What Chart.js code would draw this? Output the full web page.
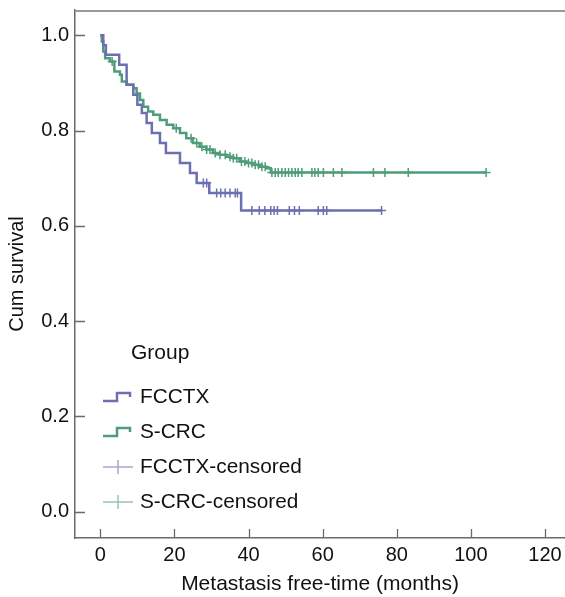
<html>
  <head>
    <script src="https://cdn.jsdelivr.net/npm/chart.js@4.4.1/dist/chart.umd.min.js"></script>
    <style>
      html, body { margin: 0; padding: 0; background: #fff; overflow: hidden; }
      #wrap { width: 565px; height: 597px; position: relative; }
    </style>
  </head>
  <body>
    <div id="wrap"><canvas id="km"></canvas></div>
    <script>
      // FCCTX curve: time of each step and survival after it
      var fcctxTime = [0, 0.8, 1.5, 5.1, 7.1, 8.9, 10.0, 11.2, 12.5, 13.9, 16.1, 17.7, 21.5, 24.2, 26.0, 29.4, 38.0, 75.9];
      var fcctxSurv = [1.0, 0.979, 0.959, 0.938, 0.896, 0.875, 0.854, 0.837, 0.816, 0.795, 0.774, 0.753, 0.732, 0.711, 0.690, 0.669, 0.632, 0.632];
      var fcctxCensored = [27.8, 28.7, 31.4, 32.5, 33.7, 35.0, 36.4, 37.0, 40.9, 42.9, 44.4, 46.0, 46.9, 47.8, 51.0, 52.4, 53.7, 58.8, 60.2, 61.1, 75.9];

      // S-CRC curve
      var scrcTime = [0, 0.4, 0.8, 1.3, 2.6, 3.8, 5.3, 5.8, 7.1, 8.9, 9.8, 10.7, 11.6, 12.9, 14.3, 16.1, 17.9, 19.7, 21.5, 23.2, 25.0, 26.8, 28.6, 30.4, 32.2, 34.0, 35.8, 37.6, 39.4, 41.2, 43.0, 44.8, 46.0, 104.1];
      var scrcSurv = [1.0, 0.987, 0.966, 0.952, 0.945, 0.924, 0.917, 0.903, 0.896, 0.889, 0.878, 0.864, 0.850, 0.840, 0.833, 0.822, 0.812, 0.805, 0.795, 0.784, 0.774, 0.766, 0.760, 0.753, 0.749, 0.745, 0.742, 0.735, 0.732, 0.728, 0.724, 0.721, 0.712, 0.712];
      var scrcCensored = [3.2, 20.5, 24.5, 26.0, 27.4, 28.7, 29.6, 31.0, 32.3, 33.7, 35.0, 35.9, 36.8, 38.1, 39.0, 40.0, 40.9, 41.8, 42.7, 43.6, 44.5, 46.3, 47.2, 48.0, 49.0, 49.9, 50.8, 51.7, 52.6, 53.4, 54.4, 57.1, 57.9, 58.8, 60.2, 62.9, 65.2, 73.7, 76.8, 83.1, 104.1];

      var xTicks = [0, 20, 40, 60, 80, 100, 120];
      var yTicks = [0, 0.2, 0.4, 0.6, 0.8, 1.0];

      var groupLabels = ['FCCTX', 'S-CRC', 'FCCTX-censored', 'S-CRC-censored'];
      var lineColors = ['#6c70b0', '#4f9c79'];
      var legendCensorColors = ['#a6a8d0', '#95c7ae'];

      var FONT = '"Liberation Sans", Arial, sans-serif';

      // survival level of a curve at time t (for placing the censor marks on it)
      function levelAt(times, surv, t) {
        var s = surv[0];
        for (var i = 0; i < times.length; i++) {
          if (times[i] <= t) s = surv[i];
        }
        return s;
      }

      function curve(times, surv) {
        return times.map((t, i) => ({ x: t, y: surv[i] }));
      }
      function marks(times, surv, cens) {
        return cens.map(t => ({ x: t, y: levelAt(times, surv, t) }));
      }

      // top frame line, inward tick marks, and the legend block
      var decor = {
        id: 'decor',
        afterDraw(chart) {
          var ctx = chart.ctx;
          var a = chart.chartArea;
          var xs = chart.scales.x, ys = chart.scales.y;
          ctx.save();
          ctx.strokeStyle = '#9a9a9a';
          ctx.lineWidth = 2;
          ctx.beginPath();
          ctx.moveTo(a.left, a.top + 1);
          ctx.lineTo(a.right, a.top + 1);
          ctx.stroke();

          ctx.strokeStyle = '#6a6a6a';
          ctx.lineWidth = 1.3;
          ctx.beginPath();
          yTicks.forEach(v => {
            var y = Math.round(ys.getPixelForValue(v)) + 0.5;
            ctx.moveTo(a.left, y);
            ctx.lineTo(a.left + 10, y);
          });
          xTicks.forEach(v => {
            var x = Math.round(xs.getPixelForValue(v)) + 0.5;
            ctx.moveTo(x, a.bottom);
            ctx.lineTo(x, a.bottom - 9);
          });
          ctx.stroke();

          // legend
          ctx.fillStyle = '#111';
          ctx.textBaseline = 'middle';
          ctx.font = '21px ' + FONT;
          ctx.fillText('Group', 131, 353);
          ctx.font = '20.8px ' + FONT;
          var rows = [397, 432, 467, 502];
          var x0 = 103, x1 = 133;
          groupLabels.forEach((lab, i) => {
            var y = rows[i];
            ctx.lineWidth = 2.5;
            if (i < 2) {
              ctx.strokeStyle = lineColors[i];
              ctx.beginPath();
              ctx.moveTo(x0, y + 4);
              ctx.lineTo(117, y + 4);
              ctx.lineTo(117, y - 4);
              ctx.lineTo(130, y - 4);
              ctx.lineTo(130, y);
              ctx.stroke();
            } else {
              ctx.strokeStyle = legendCensorColors[i - 2];
              ctx.lineWidth = 1.5;
              ctx.beginPath();
              ctx.moveTo(x0, y);
              ctx.lineTo(x1, y);
              ctx.moveTo(118, y - 7);
              ctx.lineTo(118, y + 7);
              ctx.stroke();
            }
            ctx.fillStyle = '#111';
            ctx.fillText(lab, 140, y);
          });
          ctx.restore();
        }
      };

      new Chart(document.getElementById('km'), {
        type: 'line',
        data: {
          datasets: [
            {
              label: groupLabels[0],
              data: curve(fcctxTime, fcctxSurv),
              stepped: 'before',
              borderColor: lineColors[0],
              borderWidth: 2.5,
              pointRadius: 0,
              fill: false
            },
            {
              label: groupLabels[1],
              data: curve(scrcTime, scrcSurv),
              stepped: 'before',
              borderColor: lineColors[1],
              borderWidth: 2.5,
              pointRadius: 0,
              fill: false
            },
            {
              label: groupLabels[2],
              data: marks(fcctxTime, fcctxSurv, fcctxCensored),
              showLine: false,
              pointStyle: 'cross',
              pointRadius: 4.5,
              pointBorderWidth: 1.5,
              borderColor: lineColors[0],
              backgroundColor: lineColors[0]
            },
            {
              label: groupLabels[3],
              data: marks(scrcTime, scrcSurv, scrcCensored),
              showLine: false,
              pointStyle: 'cross',
              pointRadius: 4.5,
              pointBorderWidth: 1.5,
              borderColor: lineColors[1],
              backgroundColor: lineColors[1]
            }
          ]
        },
        options: {
          responsive: true,
          maintainAspectRatio: false,
          animation: false,
          layout: { autoPadding: false, padding: { top: 10, right: 0, left: 0, bottom: 0 } },
          plugins: {
            legend: { display: false },
            tooltip: { enabled: false }
          },
          scales: {
            x: {
              type: 'linear',
              min: -6.83,
              max: 125.4,
              afterFit: s => { s.height = 59; s.paddingLeft = 0; s.paddingRight = 0; },
              afterBuildTicks: s => { s.ticks = xTicks.map(v => ({ value: v })); },
              grid: { display: false, drawTicks: false },
              border: { display: true, color: '#6a6a6a', width: 1.5 },
              ticks: { color: '#111', padding: 5, maxRotation: 0, font: { size: 20, family: FONT } },
              title: {
                display: true,
                text: 'Metastasis free-time (months)',
                color: '#111',
                font: { size: 21, family: FONT },
                padding: { top: 0, bottom: 0 }
              }
            },
            y: {
              min: -0.055,
              max: 1.053,
              afterFit: s => { s.width = 75; s.paddingTop = 0; s.paddingBottom = 0; },
              afterBuildTicks: s => { s.ticks = yTicks.map(v => ({ value: v })); },
              grid: { display: false, drawTicks: false },
              border: { display: true, color: '#6a6a6a', width: 1.5 },
              ticks: {
                color: '#111',
                padding: 6,
                font: { size: 20, family: FONT },
                callback: v => v.toFixed(1)
              },
              title: {
                display: true,
                text: 'Cum survival',
                color: '#111',
                font: { size: 20, family: FONT },
                padding: { top: 5, bottom: 0 }
              }
            }
          }
        },
        plugins: [decor]
      });
    </script>
  </body>
</html>
